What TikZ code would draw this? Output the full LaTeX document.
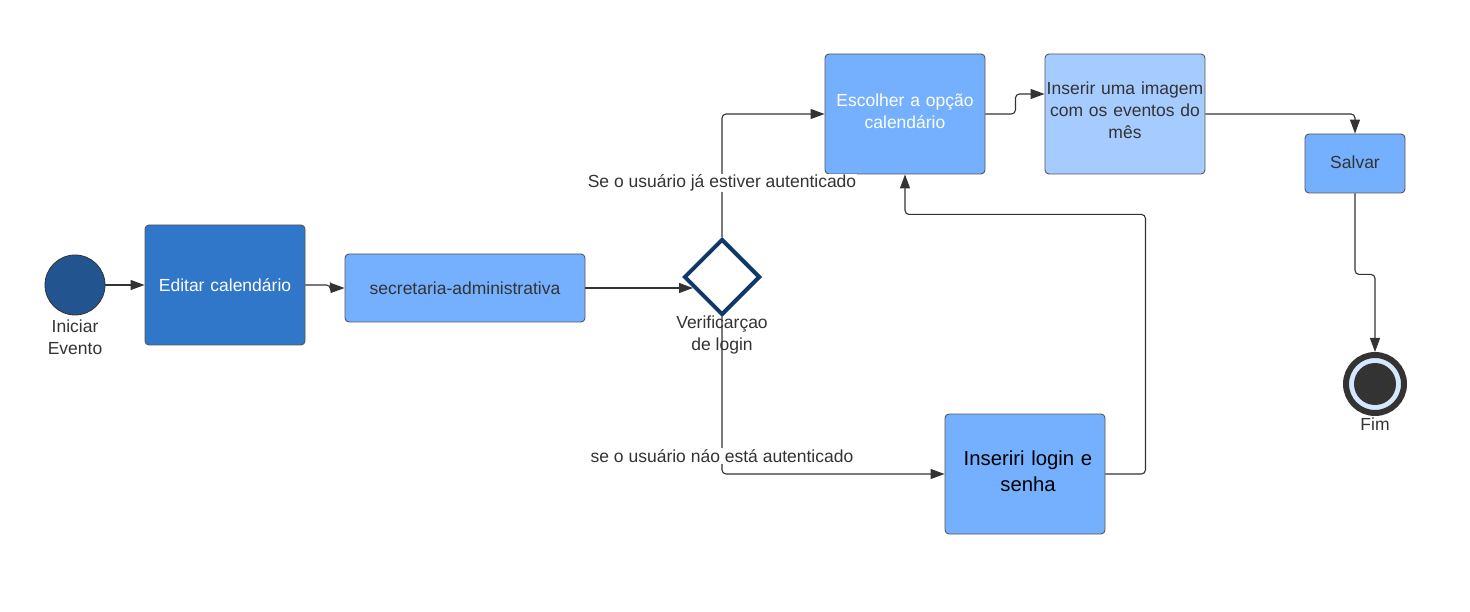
\documentclass[tikz,border=0pt]{standalone}
\usepackage{fontspec}
\setmainfont{Liberation Sans}
\usetikzlibrary{arrows.meta,shapes.geometric}
\definecolor{ln}{HTML}{333333}
\definecolor{bord}{HTML}{555555}
\definecolor{startc}{HTML}{22548F}
\definecolor{darkbox}{HTML}{3077C9}
\definecolor{midbox}{HTML}{75B0FF}
\definecolor{lightbox}{HTML}{A6CCFF}
\definecolor{navy}{HTML}{10386B}
\definecolor{ring}{HTML}{D6E8FF}
\begin{document}
\begin{tikzpicture}[x=1pt,y=-1pt,
  txt/.style={font=\fontsize{17.5}{22}\selectfont, text=ln, align=center, inner sep=0pt},
  box/.style={draw=bord, line width=0.9pt, rounded corners=4pt, inner sep=0pt, align=center, text=ln,
    font=\fontsize{17.5}{22}\selectfont},
  conn/.style={draw=ln, line width=1.1pt, -{Triangle[length=14pt,width=10pt]}, rounded corners=4pt},
  lbl/.style={txt, fill=white, inner sep=1pt}
]
\useasboundingbox (0,0) rectangle (1470,612);

% start event
\node[circle, draw=ln, line width=0.8pt, fill=startc, minimum size=60pt, inner sep=0pt] (start) at (75,285) {};
\node[txt] (startlbl) at (75,337) {Iniciar\\Evento};

% tasks
\node[box, fill=darkbox, text=white, minimum width=160pt, minimum height=120pt, text width=150pt] (editar) at (225,285) {Editar calendário};
\node[box, fill=midbox, minimum width=240pt, minimum height=68pt, text width=230pt] (secretaria) at (465,288) {secretaria-administrativa};

% gateway
\node[diamond, draw=navy, line width=4pt, fill=white, minimum width=76pt, minimum height=76pt, inner sep=0pt] (dia) at (722,277) {};

\node[box, fill=midbox, minimum width=160pt, minimum height=120pt] (escolher) at (905,114) {};
\node[txt, text=white, text width=150pt] (escolhertxt) at (905,111) {Escolher a opção\\calendário};
\node[box, fill=lightbox, minimum width=160pt, minimum height=120pt] (inserir) at (1125,114) {};
\node[txt, text width=162pt] (inserirtxt) at (1125,110) {Inserir uma imagem\\com os eventos do\\mês};
\node[box, fill=midbox, minimum width=100pt, minimum height=59pt, text width=95pt] (salvar) at (1355,163.5) {\raisebox{3pt}{Salvar}};
\node[box, fill=midbox, minimum width=160pt, minimum height=120pt] (inseriri) at (1025,474) {};
\node[txt, text=black, text width=145pt, font=\fontsize{20.3}{26}\selectfont] (inseriritxt) at (1028,471) {Inseriri login e\\senha};

% end event
\node[circle, draw=ln, line width=6pt, fill=ring, minimum size=58pt, inner sep=0pt, outer sep=3pt] (fim) at (1375,384) {};
\node[circle, fill=ln, minimum size=42pt, inner sep=0pt] (fimcore) at (fim) {};
\node[txt] (fimlbl) at (1375,424) {Fim};

% connectors
\draw[conn] (start) -- (editar);
\draw[conn] (editar.east) -- ++(25,0) -- ++(0,3) -- (secretaria.west);
\coordinate (dIn) at (693,288);
\draw[conn] (secretaria.east) -- (dIn);
\draw[conn] (dia.north) |- (escolher.west);
\draw[conn] (dia.south) |- (inseriri.west);
\draw[conn] (inseriri.east) -- ++(40,0) |- ([yshift=-40pt]escolher.south) -- (escolher.south);
\draw[conn] (escolher.east) -- ++(30,0) -- ++(0,-20) -- ([yshift=20pt]inserir.west);
\draw[conn] (inserir.east) -| (salvar.north);
\draw[conn] (salvar.south) -- ++(0,81) -| (fim.north);

% labels
\node[txt] (verlbl) at (722,335) {Verificarçao\\de login};
\node[lbl] (yeslbl) at (722,183) {Se o usuário já estiver autenticado};
\node[lbl] (nolbl) at (722,456) {se o usuário náo está autenticado};
\end{tikzpicture}
\end{document}
